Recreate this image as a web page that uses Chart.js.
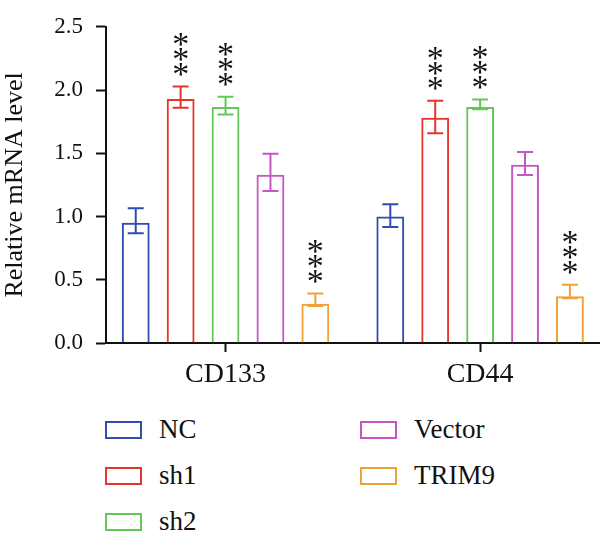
<!DOCTYPE html>
<html>
<head>
<meta charset="utf-8">
<script src="https://cdn.jsdelivr.net/npm/chart.js@4.4.0/dist/chart.umd.min.js"></script>
<style>
  body { margin: 0; background: #fff; }
  #wrap { position: relative; width: 600px; height: 542px; overflow: hidden; }
  #mrnaChart { position: absolute; left: 0; top: 0; }
  .legend-item { position: absolute; display: flex; align-items: center; height: 30px;
    font-family: 'Liberation Serif', 'Times New Roman', serif; font-size: 27px; color: #111; white-space: nowrap; }
  .legend-box { width: 37px; height: 18px; box-sizing: border-box; border: 2px solid; margin-right: 17px; }
</style>
</head>
<body>
<div id="wrap">
  <canvas id="mrnaChart" width="600" height="400"></canvas>
  <div id="legend"></div>
</div>
<script>
// categories and series
const categories = ['CD133', 'CD44'];
const seriesNames = ['NC', 'sh1', 'sh2', 'Vector', 'TRIM9'];
const seriesColors = ['#2f4ead', '#e8352c', '#62c955', '#c655c6', '#eea236'];

// mean values (per category)
const ncValues = [0.95, 1.00];
const sh1Values = [1.93, 1.78];
const sh2Values = [1.865, 1.865];
const vectorValues = [1.33, 1.41];
const trim9Values = [0.31, 0.37];

// error bars, up / down
const ncErrUp = [0.115, 0.097];
const ncErrDown = [0.082, 0.082];
const sh1ErrUp = [0.098, 0.136];
const sh1ErrDown = [0.071, 0.121];
const sh2ErrUp = [0.082, 0.061];
const sh2ErrDown = [0.059, 0.016];
const vectorErrUp = [0.166, 0.100];
const vectorErrDown = [0.128, 0.082];
const trim9ErrUp = [0.082, 0.090];
const trim9ErrDown = [0.018, 0.016];

// significance marks
const ncSig = ['', ''];
const sh1Sig = ['***', '***'];
const sh2Sig = ['***', '***'];
const vectorSig = ['', ''];
const trim9Sig = ['***', '***'];

const yTicks = [0, 0.5, 1.0, 1.5, 2.0, 2.5];

const seriesValues = [ncValues, sh1Values, sh2Values, vectorValues, trim9Values];
const seriesErrUp = [ncErrUp, sh1ErrUp, sh2ErrUp, vectorErrUp, trim9ErrUp];
const seriesErrDown = [ncErrDown, sh1ErrDown, sh2ErrDown, vectorErrDown, trim9ErrDown];
const seriesSig = [ncSig, sh1Sig, sh2Sig, vectorSig, trim9Sig];

const serif = "'Liberation Serif', 'Times New Roman', serif";

const datasets = seriesNames.map((name, s) => ({
    label: name,
    data: categories.map((c, i) => ({ x: i, y: seriesValues[s][i] })),
    errUp: seriesErrUp[s],
    errDown: seriesErrDown[s],
    sig: seriesSig[s],
    backgroundColor: 'rgba(255,255,255,0)',
    borderColor: seriesColors[s],
    borderWidth: 2,
    borderSkipped: 'start'
}));

// draw error bars and the *** marks on top of bars
const errorBarPlugin = {
    id: 'errorBars',
    afterDatasetsDraw(chart) {
        const ctx = chart.ctx;
        const yScale = chart.scales.y;
        ctx.save();
        chart.data.datasets.forEach((ds, di) => {
            const meta = chart.getDatasetMeta(di);
            meta.data.forEach((bar, i) => {
                const v = ds.data[i].y;
                const x = bar.x;
                const yTop = yScale.getPixelForValue(v + ds.errUp[i]);
                const yBot = yScale.getPixelForValue(v - ds.errDown[i]);
                ctx.strokeStyle = ds.borderColor;
                ctx.lineWidth = 2;
                ctx.beginPath();
                ctx.moveTo(x, yTop);
                ctx.lineTo(x, yBot);
                ctx.moveTo(x - 8, yTop);
                ctx.lineTo(x + 8, yTop);
                ctx.moveTo(x - 8, yBot);
                ctx.lineTo(x + 8, yBot);
                ctx.stroke();

                const marks = ds.sig[i];
                if (marks) {
                    ctx.fillStyle = '#111';
                    ctx.font = '34px ' + serif;
                    ctx.textAlign = 'center';
                    ctx.textBaseline = 'alphabetic';
                    const m = ctx.measureText('*');
                    const shift = (m.actualBoundingBoxAscent - m.actualBoundingBoxDescent) / 2;
                    for (let k = 0; k < marks.length; k++) {
                        const cy = yTop - 17 - k * 15;
                        ctx.fillText('*', x, cy + shift);
                    }
                }
            });
        });
        ctx.restore();
    }
};

const chart = new Chart(document.getElementById('mrnaChart'), {
    type: 'bar',
    data: { datasets: datasets },
    plugins: [errorBarPlugin],
    options: {
        responsive: false,
        animation: false,
        devicePixelRatio: 1,
        layout: { padding: { top: 18, right: 1, left: 0, bottom: 0 } },
        plugins: {
            legend: { display: false },
            tooltip: { enabled: false }
        },
        datasets: {
            bar: { categoryPercentage: 0.882, barPercentage: 0.62 }
        },
        scales: {
            x: {
                type: 'linear',
                offset: false,
                min: -0.4696,
                max: 1.467,
                afterBuildTicks: (scale) => {
                    scale.ticks = categories.map((c, i) => ({ value: i }));
                },
                afterFit: (scale) => { scale.height = 57; },
                ticks: {
                    callback: (v) => categories[v],
                    color: '#111',
                    font: { family: serif, size: 28 },
                    padding: 6,
                    maxRotation: 0
                },
                grid: { offset: false, drawOnChartArea: false, tickLength: 9, tickWidth: 2, tickColor: '#111' },
                border: { color: '#111', width: 2 }
            },
            y: {
                min: 0,
                max: 2.5,
                afterBuildTicks: (scale) => {
                    scale.ticks = yTicks.map(v => ({ value: v }));
                },
                afterFit: (scale) => { scale.width = 106; },
                ticks: {
                    callback: (v) => v.toFixed(1),
                    color: '#111',
                    font: { family: serif, size: 23 },
                    padding: 13
                },
                grid: { drawOnChartArea: false, tickLength: 10, tickWidth: 2, tickColor: '#111' },
                border: { color: '#111', width: 2 },
                title: {
                    display: true,
                    text: 'Relative mRNA level',
                    color: '#111',
                    font: { family: serif, size: 26 },
                    padding: { top: 0, bottom: 0 }
                }
            }
        }
    }
});

// legend in two columns, built from the datasets
const legendEl = document.getElementById('legend');
chart.data.datasets.forEach((ds, i) => {
    const col = i < 3 ? 0 : 1;
    const row = i < 3 ? i : i - 3;
    const item = document.createElement('div');
    item.className = 'legend-item';
    item.style.left = (col === 0 ? 105 : 360) + 'px';
    item.style.top = (429.5 + row * 46.1 - 15) + 'px';
    item.innerHTML = `<span class="legend-box" style="border-color: ${ds.borderColor};"></span><span>${ds.label}</span>`;
    legendEl.appendChild(item);
});
</script>
</body>
</html>
